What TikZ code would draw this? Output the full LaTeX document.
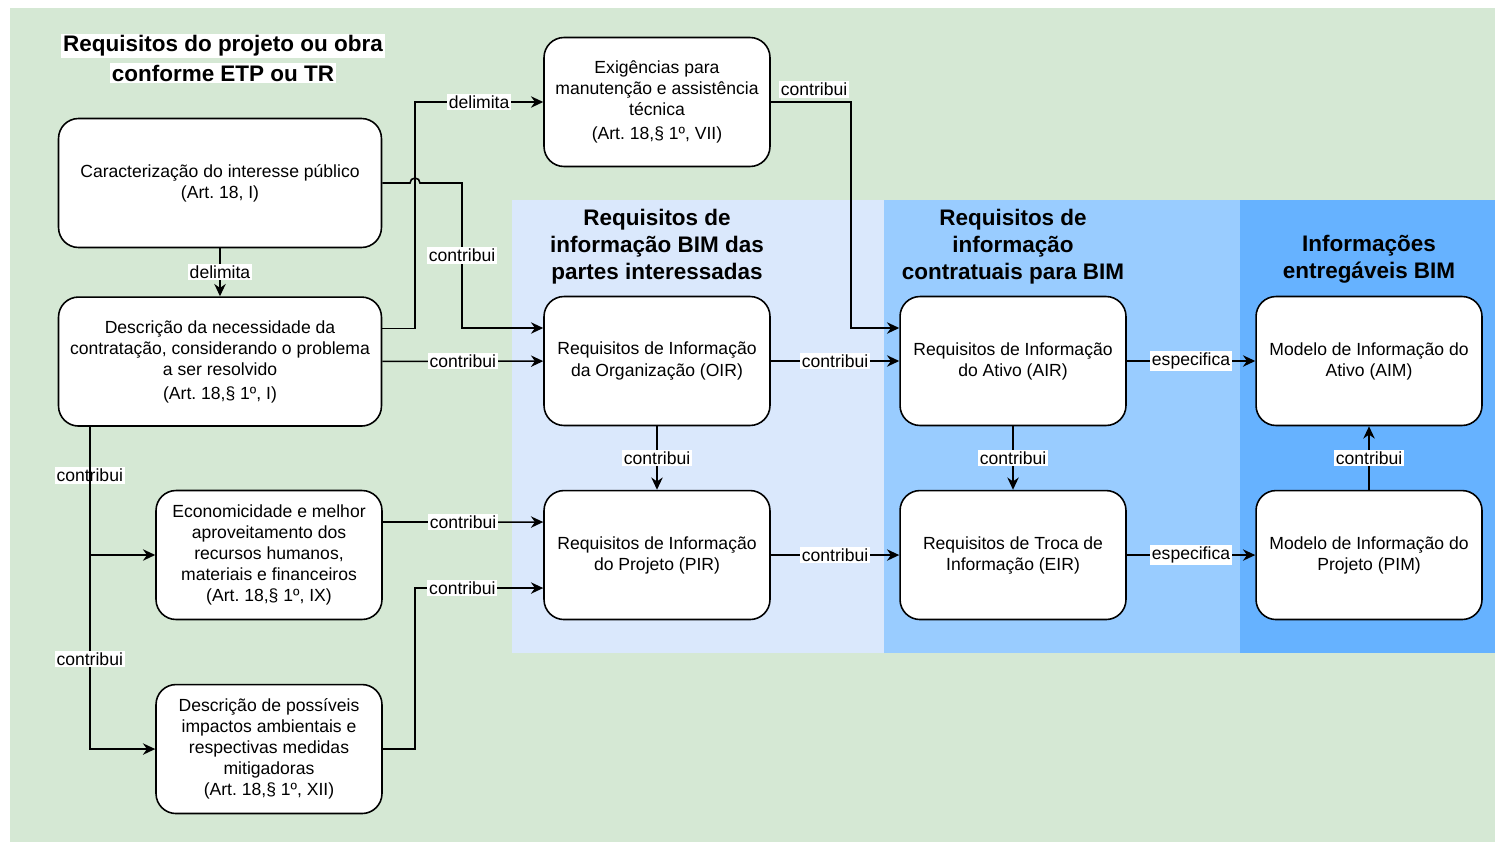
\documentclass[tikz,border=0pt]{standalone}
\usepackage{fontspec}
\setmainfont{Liberation Sans}
\frenchspacing
\usetikzlibrary{arrows.meta,positioning}
\definecolor{bggreen}{HTML}{D5E8D4}
\definecolor{lightblue}{HTML}{DAE8FC}
\definecolor{midblue}{HTML}{99CCFF}
\definecolor{darkblue}{HTML}{66B2FF}

\begin{document}
\begin{tikzpicture}[x=0.02cm, y=-0.02cm, line width=0.9pt,
  box/.style = {draw, fill=white, rounded corners=0.4cm, align=center, minimum height=2.58cm, font=\fontsize{10}{12}\selectfont},
  wide/.style = {box, minimum width=6.46cm},
  narrow/.style = {box, minimum width=4.52cm},
  lbl/.style = {fill=white, inner sep=1pt, font=\fontsize{10}{12}\selectfont},
  head/.style = {font=\fontsize{12.8}{15.4}\selectfont\bfseries, align=center},
  arr/.style = {-{Stealth[length=7pt,width=6.5pt]}}]

% backgrounds
\useasboundingbox (0,0) rectangle (1495,842);
\fill[bggreen] (10,8) rectangle (1495,842);
\fill[lightblue] (512,200) rectangle (884,653);
\fill[midblue] (884,200) rectangle (1240,653);
\fill[darkblue] (1240,200) rectangle (1495,653);

% headings
\node[head, fill=white, inner sep=1pt] (t1) at (223,46) {Requisitos do projeto ou obra};
\node[head, fill=white, inner sep=1pt] (t2) at (223,73) {conforme ETP ou TR};
\node[head] (h1) at (657,247) {Requisitos de\\informação BIM das\\partes interessadas};
\node[head] (h2) at (1013,247) {Requisitos de\\informação\\contratuais para BIM};
\node[head] (h3) at (1369,259) {Informações\\entregáveis BIM};

% left column
\node[wide] (carac) at (220,183) {Caracterização do interesse público\\(Art. 18, I)};
\node[wide] (neces) [below=0.96cm of carac] {Descrição da necessidade da\\contratação, considerando o problema\\a ser resolvido\\[1.5pt](Art. 18,§ 1º, I)};
\node[narrow] (econ) at (269,555) {Economicidade e melhor\\aproveitamento dos\\recursos humanos,\\materiais e financeiros\\(Art. 18,§ 1º, IX)};
\node[narrow] (impac) [below=1.27cm of econ] {Descrição de possíveis\\impactos ambientais e\\respectivas medidas\\mitigadoras\\(Art. 18,§ 1º, XII)};
\node[narrow] (exig) at (657,102) {Exigências para\\manutenção e assistência\\técnica\\[1.5pt](Art. 18,§ 1º, VII)};

% BIM grid
\node[narrow] (oir) at (657,361) {Requisitos de Informação\\da Organização (OIR)};
\node[narrow] (pir) [below=1.27cm of oir] {Requisitos de Informação\\do Projeto (PIR)};
\node[narrow] (air) [right=2.57cm of oir] {Requisitos de Informação\\do Ativo (AIR)};
\node[narrow] (eir) [below=1.27cm of air] {Requisitos de Troca de\\Informação (EIR)};
\node[narrow] (aim) [right=2.57cm of air] {Modelo de Informação do\\Ativo (AIM)};
\node[narrow] (pim) [below=1.27cm of aim] {Modelo de Informação do\\Projeto (PIM)};

% bend points
\coordinate (j1) at (415,0);
\coordinate (j2) at (462,0);
\coordinate (j3) at (851,0);
\coordinate (b1) at ([xshift=0.64cm]neces.south west);
\coordinate (f1) at ([yshift=0.66cm]oir.west);
\coordinate (g2) at ([yshift=-0.66cm]pir.west);
\coordinate (h1in) at ([yshift=0.66cm]air.west);
\path (j1 |- carac.east) coordinate (hop);

% connectors
\draw[arr] (carac) -- node[lbl] {delimita} (neces);
\draw[arr] ([yshift=0.66cm]neces.east) -| (j1 |- exig.west) -- node[lbl] {delimita} (exig.west);
\draw[arr] (carac.east) -- ([xshift=-0.1cm]hop) arc[start angle=180, end angle=0, radius=0.1cm]
  -- (j2 |- carac.east) -- node[lbl] {contribui} (j2 |- f1) -- (f1);
\draw[arr] (neces) -- node[lbl] {contribui} (oir);
\draw[arr] (exig.east) -| node[lbl, above=2pt, pos=0.27] {contribui} (j3 |- h1in) -- (h1in);
\draw[arr] ([yshift=0.66cm]econ.east) -- node[lbl] {contribui} ([yshift=0.66cm]pir.west);
\draw[arr] (impac.east) -| (j1 |- g2) -- node[lbl, pos=0.37] {contribui} (g2);
\draw[arr] (b1) |- node[lbl, pos=0.19] {contribui} (econ.west);
\draw[arr] (b1) |- node[lbl, pos=0.36] {contribui} (impac.west);
\draw[arr] (oir) -- node[lbl] {contribui} (pir);
\draw[arr] (oir) -- node[lbl] {contribui} (air);
\draw[arr] (pir) -- node[lbl] {contribui} (eir);
\draw[arr] (air) -- node[lbl] {contribui} (eir);
\draw[arr] (air) -- node[lbl] {especifica} (aim);
\draw[arr] (eir) -- node[lbl] {especifica} (pim);
\draw[arr] (pim) -- node[lbl] {contribui} (aim);
\end{tikzpicture}
\end{document}
